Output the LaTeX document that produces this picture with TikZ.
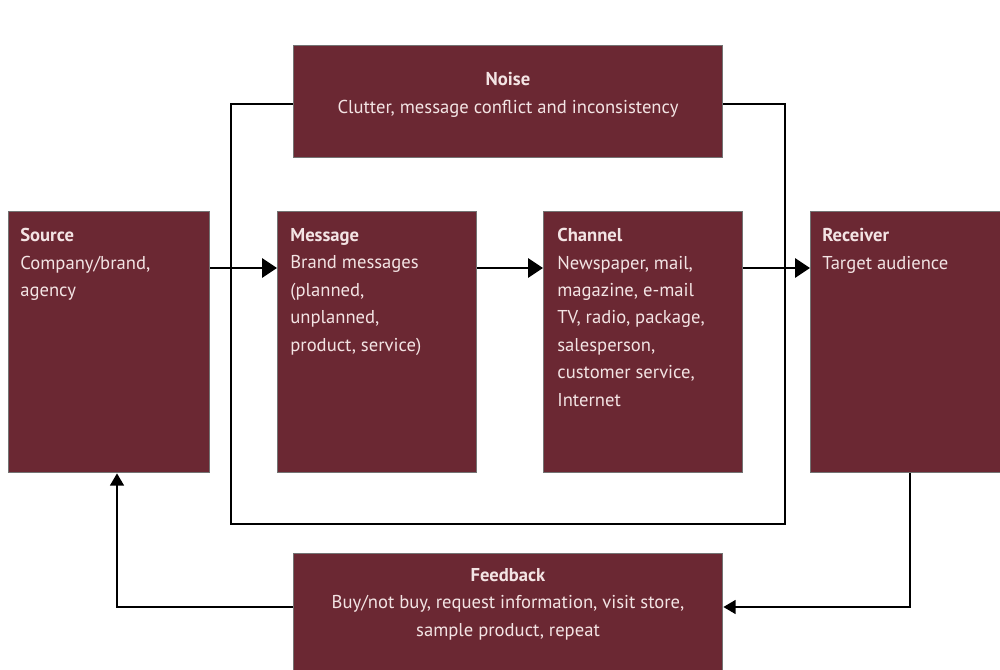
\documentclass[tikz,border=0pt]{standalone}
\usepackage{fontspec}
\setmainfont{PT Sans}
\usetikzlibrary{arrows.meta}
\definecolor{maroon}{HTML}{6B2833}
\definecolor{boxtext}{HTML}{F3E4E4}
\tikzset{
  block/.style={draw=black!55, line width=0.8pt, fill=maroon, inner sep=0pt, anchor=north west},
  label/.style={text=boxtext, inner sep=0pt, font=\fontsize{10.6}{15.6}\selectfont},
  flow/.style={line width=1.1pt, -{Triangle[length=8.5pt,width=11pt]}},
  back/.style={line width=0.9pt, -{Triangle[length=7pt,width=8pt]}},
  loop/.style={line width=1.1pt},
}
\begin{document}
\begin{tikzpicture}[x=0.02cm,y=-0.02cm]
\useasboundingbox (0,0) rectangle (1000,669);
\fill[white] (0,0) rectangle (1000,669);

% noise loop around message and channel
\coordinate (lpTL) at (231,104);
\coordinate (lpBL) at (231,524);
\coordinate (lpBR) at (785,524);
\coordinate (lpTR) at (785,104);

% blocks
\node[block, minimum width=201*0.02cm, minimum height=261*0.02cm] (src) at (8,211) {};
\node[block, minimum width=199*0.02cm, minimum height=261*0.02cm] (msg) at (277,211) {};
\node[block, minimum width=199*0.02cm, minimum height=261*0.02cm] (chn) at (543,211) {};
\node[block, minimum width=200*0.02cm, minimum height=261*0.02cm] (rcv) at (810,211) {};
\node[block, minimum width=429*0.02cm, minimum height=112*0.02cm] (noise) at (293,45) {};
\node[block, minimum width=429*0.02cm, minimum height=118*0.02cm] (fb) at (293,553) {};

% loop line behind noise box
\draw[loop] (noise.west |- lpTL) -- (lpTL) -- (lpBL) -- (lpBR) -- (lpTR) -- (noise.east |- lpTR);

% texts
\node[label, anchor=north west, align=left] (srcT) at (20,228)
  {\textbf{Source}\\Company/brand,\\agency};
\node[label, anchor=north west, align=left] (msgT) at (290,228)
  {\textbf{Message}\\Brand messages\\(planned,\\unplanned,\\product, service)};
\node[label, anchor=north west, align=left] (chnT) at (557,228)
  {\textbf{Channel}\\Newspaper, mail,\\magazine, e-mail\\TV, radio, package,\\salesperson,\\customer service,\\Internet};
\node[label, anchor=north west, align=left] (rcvT) at (822,228)
  {\textbf{Receiver}\\Target audience};
\node[label, anchor=north, align=center] (noiseT) at (508,72)
  {\textbf{Noise}\\Clutter, message conflict and inconsistency};
\node[label, anchor=north, align=center] (fbT) at (508,568)
  {\textbf{Feedback}\\Buy/not buy, request information, visit store,\\sample product, repeat};

% forward flow
\draw[flow] (src.east |- 0,268) -- (msg.west |- 0,268);
\draw[flow] (msg.east |- 0,268) -- (chn.west |- 0,268);
\draw[flow] (chn.east |- 0,268) -- (rcv.west |- 0,268);

% feedback path
\coordinate (rcvDown) at (910,607);
\coordinate (srcUp) at (117,607);
\draw[back] (rcv.south -| rcvDown) -- (rcvDown) -- (fb.east |- rcvDown);
\draw[back] (fb.west |- srcUp) -- (srcUp) -- (src.south -| srcUp);
\end{tikzpicture}
\end{document}
